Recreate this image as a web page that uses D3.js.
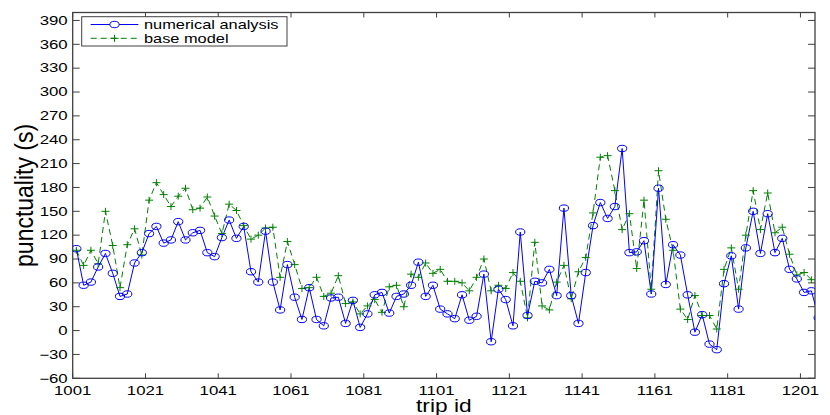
<!DOCTYPE html>
<html><head><meta charset="utf-8">
<script src="https://cdn.jsdelivr.net/npm/d3@7"></script>
<style>body{margin:0;background:#fff}svg{display:block}text{font-family:"Liberation Sans",Arial,sans-serif}</style>
</head><body>
<script>
const tripIds = d3.range(1002, 1207, 2);
const numericalAnalysis = [103,57,61,80,97,72,43,46,85,98,122,131,110,114,137,114,123,126,98,93,117,139,116,131,74,61,125,61,26,83,42,14,54,14,6,41,42,9,38,4,21,45,48,22,43,46,57,86,43,57,27,21,15,45,13,18,71,-14,52,39,6,124,19,62,60,77,44,154,44,9,73,132,161,141,156,229,98,99,113,46,179,58,108,95,45,-2,20,-17,-24,59,94,27,104,150,97,147,98,116,77,65,48,50,16];
const baseModel = [101,82,101,84,150,107,54,108,128,95,164,186,171,156,169,179,152,154,168,144,122,159,151,132,115,120,129,130,67,112,83,53,54,67,43,47,69,34,36,21,31,39,23,55,57,30,71,67,85,72,77,62,62,60,50,67,90,50,57,53,73,62,16,111,31,26,61,82,40,74,92,148,218,220,176,127,147,78,164,52,201,140,101,27,14,44,19,19,2,77,104,52,120,176,127,173,123,130,96,70,73,64,60];
const xTicks = d3.range(1001, 1202, 20);
const yTicks = d3.range(-60, 391, 30);
const seriesNames = ["numerical analysis", "base model"];

const W = 830, H = 415;
const L = 72.7, R = 815, T = 12.5, B = 378.3;
const svg = d3.select("body").append("svg").attr("width", W).attr("height", H);
const x = d3.scaleLinear().domain([1001, 1205]).range([L, R]);
const y = d3.scaleLinear().domain([-60, 400]).range([B, T]);
const SX = 1.4;
function stretch(sel, s){
  sel.each(function(){
    const t = d3.select(this);
    const ax = +t.attr("x") || 0, ay = +t.attr("y") || 0;
    t.attr("transform", `translate(${ax},${ay}) scale(${s},1) translate(${-ax},${-ay})`);
  });
}
const axisColor = "#404040";
svg.append("clipPath").attr("id","clip").append("rect").attr("x",L).attr("y",T).attr("width",R-L).attr("height",B-T);

const g = svg.append("g");
xTicks.forEach(v=>{
  g.append("line").attr("x1",x(v)).attr("x2",x(v)).attr("y1",B).attr("y2",B-5).attr("stroke",axisColor);
  g.append("line").attr("x1",x(v)).attr("x2",x(v)).attr("y1",T).attr("y2",T+5).attr("stroke",axisColor);
});
yTicks.forEach(v=>{
  g.append("line").attr("x1",L).attr("x2",L+7).attr("y1",y(v)).attr("y2",y(v)).attr("stroke",axisColor);
  g.append("line").attr("x1",R).attr("x2",R-7).attr("y1",y(v)).attr("y2",y(v)).attr("stroke",axisColor);
});
g.append("rect").attr("x",L).attr("y",T).attr("width",R-L).attr("height",B-T).attr("fill","none").attr("stroke",axisColor).attr("stroke-width",1.3);

const fmt = d3.format("d");
svg.append("g").selectAll("text").data(xTicks).join("text")
  .attr("x", d=>x(d)).attr("y", B+16.3).attr("text-anchor","middle").attr("font-size",12).attr("fill","#000").text(d=>fmt(d))
  .call(stretch, SX);
svg.append("g").selectAll("text").data(yTicks).join("text")
  .attr("x", L-5).attr("y", d=>y(d)+4.3).attr("text-anchor","end").attr("font-size",12).attr("fill","#000").text(d=>fmt(d))
  .call(stretch, SX);

svg.append("text").attr("x", (L+R)/2).attr("y", 412.5).attr("text-anchor","middle").attr("font-size",17.5).text("trip id").call(stretch, 1.3);
svg.append("text").attr("transform", `translate(33,${(T+B)/2}) rotate(-90) scale(1,1.1)`).attr("text-anchor","middle").attr("font-size",23).text("punctuality (s)");

const plot = svg.append("g").attr("clip-path","url(#clip)");
const dataA = tripIds.map((d,i)=>({x:d, y:numericalAnalysis[i]}));
const dataB = tripIds.map((d,i)=>({x:d, y:baseModel[i]}));
const line = d3.line().x(d=>x(d.x)).y(d=>y(d.y));
plot.append("path").datum(dataB).attr("d",line).attr("fill","none").attr("stroke","#008000").attr("stroke-width",1).attr("stroke-dasharray","6,4");
plot.append("path").datum(dataA).attr("d",line).attr("fill","none").attr("stroke","#0000ff").attr("stroke-width",1);
const plusPath = (cx,cy)=>`M${cx-4},${cy}H${cx+4}M${cx},${cy-3.5}V${cy+3.5}`;
plot.append("g").selectAll("path").data(dataB).join("path").attr("d",d=>plusPath(x(d.x),y(d.y))).attr("stroke","#008000").attr("stroke-width",1).attr("fill","none");
plot.append("g").selectAll("ellipse").data(dataA).join("ellipse").attr("cx",d=>x(d.x)).attr("cy",d=>y(d.y)).attr("rx",4.6).attr("ry",3.2).attr("fill","none").attr("stroke","#0000ff").attr("stroke-width",1);

const lg = svg.append("g");
lg.append("rect").attr("x",81.7).attr("y",16.7).attr("width",205.3).attr("height",29.3).attr("fill","#fff").attr("stroke",axisColor).attr("stroke-width",1);
const ly = [24.5, 38.3];
lg.append("line").attr("x1",90.7).attr("x2",138.3).attr("y1",ly[0]).attr("y2",ly[0]).attr("stroke","#0000ff");
lg.append("ellipse").attr("cx",114.5).attr("cy",ly[0]).attr("rx",4.6).attr("ry",3.2).attr("fill","#fff").attr("stroke","#0000ff");
lg.append("line").attr("x1",90.7).attr("x2",138.3).attr("y1",ly[1]).attr("y2",ly[1]).attr("stroke","#008000").attr("stroke-dasharray","6,4");
lg.append("path").attr("d",plusPath(114.5,ly[1])).attr("stroke","#008000").attr("fill","none");
lg.selectAll("text.lt").data(seriesNames).join("text").attr("class","lt")
  .attr("x",144).attr("y",(d,i)=>ly[i]+4.5).attr("font-size",13).text(d=>d).call(stretch,1.26);
</script>
</body></html>
